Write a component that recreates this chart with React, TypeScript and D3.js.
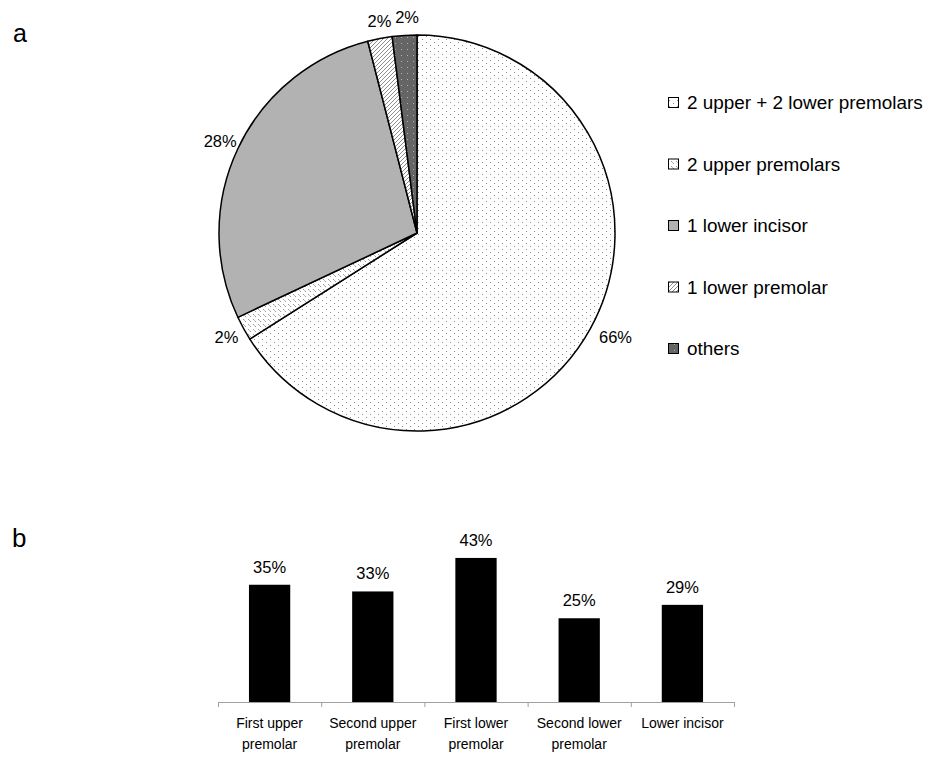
import React from "react";
import * as d3 from "d3";

const pieLabels = ["2 upper + 2 lower premolars", "2 upper premolars", "1 lower incisor", "1 lower premolar", "others"];
const pieValues = [66, 2, 28, 2, 2];
const pieFills = ["url(#pDots)", "url(#pDense)", "#b2b2b2", "url(#pHatch)", "url(#pDark)"];

const barCategories = [["First upper", "premolar"], ["Second upper", "premolar"], ["First lower", "premolar"], ["Second lower", "premolar"], ["Lower incisor"]];
const barValues = [35, 33, 43, 25, 29];

const FONT = "'Liberation Sans', Arial, sans-serif";

export default function App() {
  const cx = 417, cy = 233, r = 198;
  const pie = d3.pie<number>().sort(null).value((d) => d).startAngle(0).endAngle(2 * Math.PI);
  const arcs = pie(pieValues);
  const arcGen = d3.arc<d3.PieArcDatum<number>>().innerRadius(0).outerRadius(r);

  const x = d3.scaleBand<number>().domain(barValues.map((_, i) => i)).range([218, 734]).paddingInner(0.6).paddingOuter(0.3);
  const y = d3.scaleLinear().domain([0, 50]).range([702, 534.5]);
  const step = x.step();
  const x0 = 218;

  return (
    <svg width={926} height={757} style={{ position: "absolute", left: 0, top: 0, background: "#fff" }} fontFamily={FONT}>
      <defs>
        <pattern id="pDots" width={8} height={6} patternUnits="userSpaceOnUse">
          <rect width={8} height={6} fill="#fff" />
          <rect x={1} y={1} width={1} height={1} fill="#8a8a8a" />
          <rect x={5} y={4} width={1} height={1} fill="#8a8a8a" />
        </pattern>
        <pattern id="pDense" width={5} height={5} patternUnits="userSpaceOnUse">
          <rect width={5} height={5} fill="#fff" />
          <rect x={1} y={1} width={1} height={1} fill="#9a9a9a" />
          <rect x={2} y={2} width={1} height={1} fill="#bbbbbb" />
          <rect x={3} y={3} width={1} height={1} fill="#9a9a9a" />
        </pattern>
        <pattern id="pHatch" width={4} height={4} patternUnits="userSpaceOnUse">
          <rect width={4} height={4} fill="#fff" />
          <path d="M-1,1 L1,-1 M0,4 L4,0 M3,5 L5,3" stroke="#8c8c8c" strokeWidth={1} />
        </pattern>
        <pattern id="pDark" width={6} height={6} patternUnits="userSpaceOnUse">
          <rect width={6} height={6} fill="#656565" />
          <rect x={2} y={2} width={1} height={1} fill="#b0b0b0" />
        </pattern>
      </defs>

      <text x={13} y={42} fontSize={25}>a</text>
      <text x={12} y={547} fontSize={26}>b</text>

      <g transform={`translate(${cx},${cy})`}>
        {arcs.map((a, i) => (
          <path key={i} d={arcGen(a) || ""} fill={pieFills[i]} stroke="#000" strokeWidth={1.5} strokeLinejoin="round" />
        ))}
        {arcs.map((a, i) => {
          const m = (a.startAngle + a.endAngle) / 2;
          const lx = 222 * Math.sin(m) + 4;
          const ly = -216 * Math.cos(m);
          return (
            <text key={"l" + i} x={lx} y={ly} fontSize={16.5} textAnchor="middle" dominantBaseline="central">
              {Math.round(a.value) + "%"}
            </text>
          );
        })}
      </g>

      <g>
        {pieLabels.map((lab, i) => {
          const cyL = 102.5 + i * 61.5;
          return (
            <g key={lab}>
              <rect x={668.5} y={cyL - 5} width={10} height={10} fill={pieFills[i]} stroke="#000" strokeWidth={1} />
              <text x={687} y={cyL} fontSize={18.9} dominantBaseline="central">{lab}</text>
            </g>
          );
        })}
      </g>

      <g>
        {barValues.map((v, i) => (
          <rect key={i} x={x(i)} y={y(v)} width={x.bandwidth()} height={y(0) - y(v)} fill="#000" />
        ))}
        {barValues.map((v, i) => (
          <text key={"v" + i} x={(x(i) || 0) + x.bandwidth() / 2} y={y(v) - 12} fontSize={16.5} textAnchor="middle">{v + "%"}</text>
        ))}
        <line x1={218} x2={734} y1={702.5} y2={702.5} stroke="#a0a0a0" strokeWidth={1} />
        {d3.range(barValues.length + 1).map((i) => (
          <line key={"t" + i} x1={x0 + i * step + 0.5} x2={x0 + i * step + 0.5} y1={702} y2={707} stroke="#a0a0a0" strokeWidth={1} />
        ))}
        {barCategories.map((lines, i) => (
          <text key={"c" + i} fontSize={14} textAnchor="middle">
            {lines.map((ln, j) => (
              <tspan key={j} x={(x(i) || 0) + x.bandwidth() / 2} y={723 + j * 21} dominantBaseline="central">{ln}</tspan>
            ))}
          </text>
        ))}
      </g>
    </svg>
  );
}
